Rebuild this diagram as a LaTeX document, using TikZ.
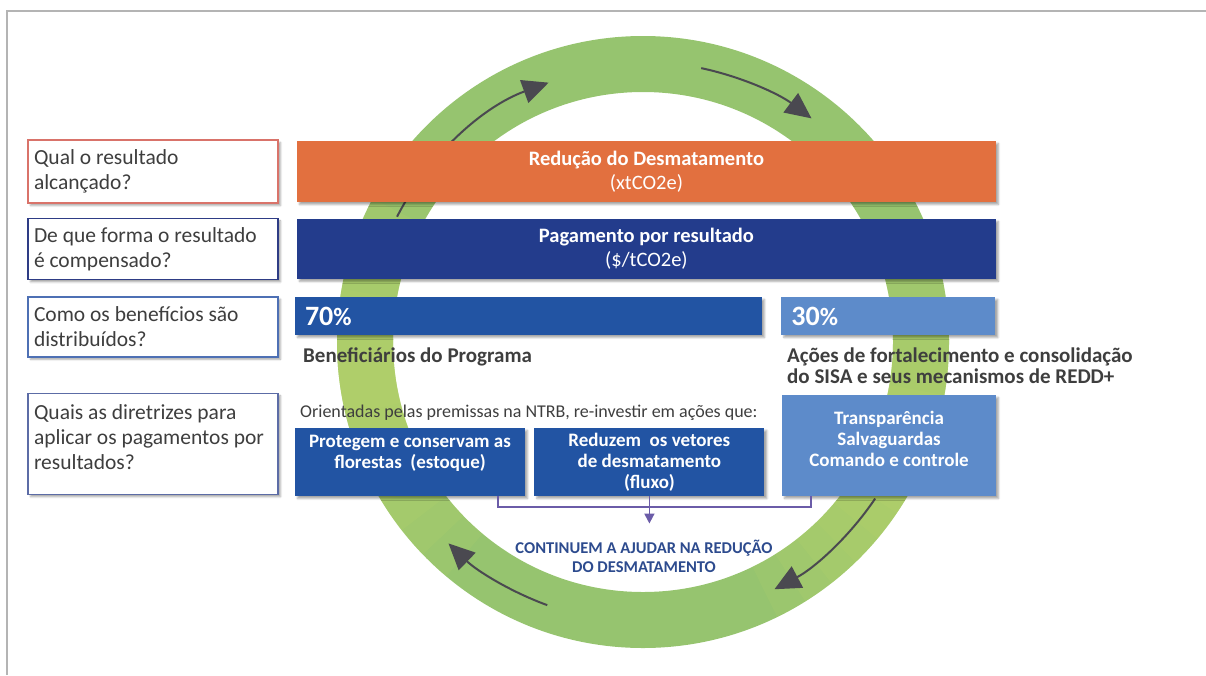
\documentclass[tikz,border=0pt]{standalone}
\usepackage{fontspec}
\setmainfont{Carlito}
\usepackage{tikz}
\usetikzlibrary{arrows.meta, positioning, calc, shadows.blur}
\definecolor{resultorange}{HTML}{E2703F}
\definecolor{paynavy}{HTML}{233C8C}
\definecolor{shareblue}{HTML}{2254A3}
\definecolor{sisablue}{HTML}{5D8BCA}
\definecolor{ringgreen}{HTML}{96C46F}
\definecolor{ringlight}{HTML}{C0D86A}
\definecolor{arrowgray}{HTML}{4A4950}
\definecolor{textgray}{HTML}{3E3E3E}
\definecolor{bracketpurple}{HTML}{6B5CA8}
\definecolor{framegray}{HTML}{B4B4B4}
\definecolor{qred}{HTML}{D9736A}
\definecolor{qnavy}{HTML}{2E3C85}
\definecolor{qblue}{HTML}{4E70B4}
\definecolor{qslate}{HTML}{5C6CA6}
\definecolor{continueblue}{HTML}{2D4B8E}

\tikzset{
  softshadow/.style={blur shadow={shadow xshift=2.5pt, shadow yshift=-2.5pt, shadow blur steps=4, shadow opacity=35}},
  question/.style={draw=#1, line width=1.4pt, fill=white, text=textgray, text width=238pt, inner xsep=6pt, inner ysep=0pt, align=flush left, font=\fontsize{21.5}{25}\selectfont, softshadow},
  bar/.style={fill=#1, text=white, minimum width=699pt, inner sep=0pt, align=center, font=\fontsize{20.5}{24}\selectfont, softshadow},
  share/.style={fill=#1, text=white, minimum height=38pt, inner xsep=10pt, inner ysep=0pt, align=flush left, font=\bfseries\fontsize{28}{30}\selectfont, softshadow},
  action/.style={fill=#1, text=white, inner sep=0pt, align=center, font=\bfseries\fontsize{19}{21}\selectfont, softshadow},
  caption/.style={text=textgray, inner sep=0pt, align=flush left, font=\bfseries\fontsize{21}{21}\selectfont},
  ringarrow/.style={arrowgray, line width=2pt, -{Triangle[length=26pt, width=24pt]}},
  ringtint/.style={ringlight, line width=56pt, opacity=0.14},
  bracket/.style={bracketpurple, line width=1.8pt}
}

\begin{document}
\begin{tikzpicture}[x=1pt, y=-1pt]
  \useasboundingbox (0,0) rectangle (1206,675);
  \draw[framegray, line width=2pt] (7,675) -- (7,11) -- (1206,11);

  \coordinate (ring) at (643,342);
  \draw[ringgreen, line width=56pt] (ring) circle[radius=278pt];
  \foreach \spread in {6,12,...,42}{
    \draw[ringtint] ($(ring)+(188+\spread:278pt)$) arc[start angle=188+\spread, end angle=188-\spread, radius=278pt];
    \draw[ringtint] ($(ring)+(-22+\spread:278pt)$) arc[start angle=-22+\spread, end angle=-22-\spread, radius=278pt];
  }
  \draw[ringarrow] ($(ring)+(153:276pt)$) arc[start angle=153, end angle=110, radius=276pt];
  \draw[ringarrow] ($(ring)+(78:280pt)$) arc[start angle=78, end angle=53, radius=280pt];
  \draw[ringarrow] ($(ring)+(-34:280pt)$) arc[start angle=-34, end angle=-62, radius=280pt];
  \draw[ringarrow] ($(ring)+(-110:280pt)$) arc[start angle=-110, end angle=-134, radius=280pt];

  \node[question=qred, minimum height=63pt] (q1) at (153,171.5) {Qual o resultado\\alcançado?};
  \node[question=qnavy, minimum height=61pt, below=14pt of q1] (q2) {De que forma o resultado\\é compensado?};
  \node[question=qblue, minimum height=60pt, below=16pt of q2] (q3) {Como os benefícios são\\distribuídos?};
  \node[question=qslate, minimum height=101pt, text depth=64pt, below=35pt of q3] (q4) {Quais as diretrizes para\\aplicar os pagamentos por\\resultados?};

  \node[bar=resultorange, minimum height=61pt, right=18pt of q1] (reducao) {\textbf{Redução do Desmatamento}\\(xtCO2e)};
  \node[bar=paynavy, minimum height=60pt, right=18pt of q2] (pagamento) {\textbf{Pagamento por resultado}\\(\$/tCO2e)};

  \node[share=shareblue, text width=447pt] (pct70) at (528.5,316) {70{\fontsize{25}{30}\selectfont\%}};
  \node[share=sisablue, text width=194pt, right=19pt of pct70] (pct30) {30{\fontsize{25}{30}\selectfont\%}};
  \node[caption, anchor=west] (benef) at (303,357) {Beneficiários do Programa};
  \node[caption, anchor=west] (acoes) at (787,366) {Ações de fortalecimento e consolidação\\do SISA e seus mecanismos de REDD+};

  \node[anchor=west, inner sep=0pt, text=textgray, font=\fontsize{18}{20}\selectfont] (orientadas) at (300,413) {Orientadas pelas premissas na NTRB, re-investir em ações que:};
  \node[action=shareblue, minimum width=230pt, minimum height=68pt] (protegem) at (410,462) {Protegem e conservam as\\florestas~ (estoque)\\\mbox{}};
  \node[action=shareblue, minimum width=230pt, minimum height=68pt, right=9pt of protegem] (reduzem) {Reduzem~ os vetores\\de desmatamento\\(fluxo)};
  \node[action=sisablue, minimum width=214pt, minimum height=101pt, text depth=13pt] (transp) at (889,445.5) {Transparência\\Salvaguardas\\Comando e controle};

  \node[text=continueblue, inner sep=0pt, align=center, font=\bfseries\fontsize{16.5}{19}\selectfont] (continuem) at (644,556) {CONTINUEM A AJUDAR NA REDUÇÃO\\DO DESMATAMENTO};

  \draw[bracket] ([xshift=88pt]protegem.south) -- ++(0,11) -| ([xshift=-78pt]transp.south);
  \draw[bracket, -{Triangle[length=10pt, width=10pt]}, shorten >=16pt] (reduzem.south) -- (reduzem.south |- continuem.north);
\end{tikzpicture}
\end{document}
